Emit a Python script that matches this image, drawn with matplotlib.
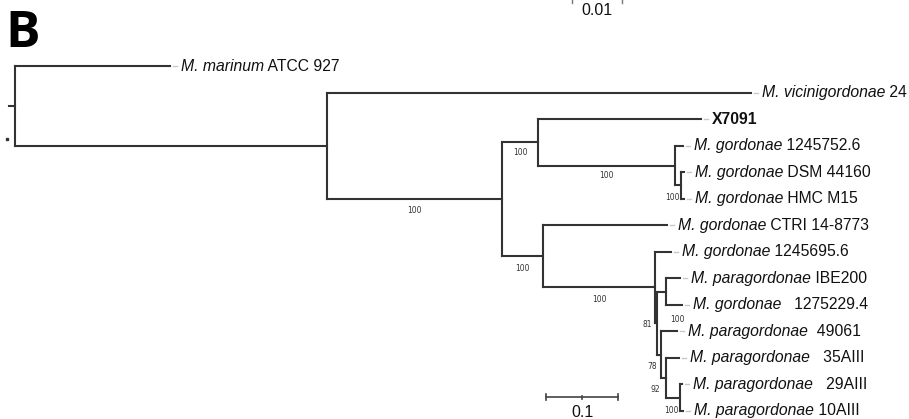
import matplotlib
matplotlib.use('Agg')
import matplotlib.pyplot as plt

# ---------------- data ----------------
leaf_species = ['M. marinum', 'M. vicinigordonae', 'X7091', 'M. gordonae', 'M. gordonae',
                'M. gordonae', 'M. gordonae', 'M. gordonae', 'M. paragordonae', 'M. gordonae',
                'M. paragordonae', 'M. paragordonae', 'M. paragordonae', 'M. paragordonae']
leaf_strains = ['ATCC 927', '24', '', '1245752.6', 'DSM 44160', 'HMC M15', 'CTRI 14-8773',
                '1245695.6', 'IBE200', '1275229.4', '49061', '35AIII', '29AIII', '10AIII']
leaf_gap_spaces = [1, 1, 0, 1, 1, 1, 1, 1, 1, 3, 2, 3, 3, 1]
leaf_parent = ['root', 'A', 'D', 'E', 'F', 'F', 'C', 'G', 'I', 'I', 'N78', 'N92', 'P', 'P']
leaf_length = [0.2132, 0.5832, 0.2242, 0.011, 0.0041, 0.0041, 0.1706, 0.022,
               0.0193, 0.022, 0.022, 0.0179, 0.0028, 0.0041]

node_names = ['root', 'A', 'B', 'D', 'E', 'F', 'C', 'G', 'H', 'I', 'N78', 'N92', 'P']
node_parent = [None, 'root', 'A', 'B', 'D', 'E', 'B', 'C', 'G', 'H', 'H', 'N78', 'N92']
node_length = [0.0, 0.4292, 0.2407, 0.0495, 0.1884, 0.0083, 0.0564, 0.1541,
               0.0028, 0.0124, 0.0055, 0.0069, 0.0193]
node_support = [None, None, 100, 100, 100, 100, 100, 100, 81, 100, 78, 92, 100]

scale_value = 0.1
scale_label = '0.1'
top_scale_label = '0.01'
panel_letter = 'B'

# ---------------- layout ----------------
W, H = 909, 419
X0_PX, PX_PER_UNIT = 15.0, 727.0
ROW0_PX, ROW_PX = 66.1, 26.52

def ux(px):
    return px / PX_PER_UNIT

# bootstrap label placement: anchor, ha, dx(px), dy(px, downwards)
support_layout = {
    'B': ('mid', 'center', 0, 11), 'D': ('mid', 'center', 0, 10),
    'E': ('mid', 'center', 0, 10), 'F': ('node', 'right', -1, 12),
    'C': ('mid', 'center', 0, 12), 'G': ('mid', 'center', 0, 12),
    'H': ('node', 'right', -5.5, 1), 'I': ('node', 'center', 11, 28),
    'N78': ('node', 'right', -4.5, 12), 'N92': ('node', 'right', -6, 12),
    'P': ('node', 'right', -1, 12.5),
}

branch_color = '#333333'
LW = 1.5
label_font = 'Liberation Sans'
label_size = 11.3
label_gap_px = 11

fig = plt.figure(figsize=(W / 100, H / 100), dpi=100)
ax = fig.add_axes([0, 0, 1, 1])
ax.set_xlim(ux(-X0_PX), ux(W - X0_PX))
ax.set_ylim((H - ROW0_PX) / ROW_PX, -ROW0_PX / ROW_PX)
ax.axis('off')

# --- compute coordinates ---
nx, ny = {}, {}
for name, par, ln in zip(node_names, node_parent, node_length):
    nx[name] = 0.0 if par is None else nx[par] + ln
lx = [nx[p] + l for p, l in zip(leaf_parent, leaf_length)]
ly = list(range(len(leaf_species)))

children = {n: [] for n in node_names}
for i, p in enumerate(leaf_parent):
    children[p].append(('leaf', i))
for n, p in zip(node_names, node_parent):
    if p is not None:
        children[p].append(('node', n))
for n in reversed(node_names):
    ys = [ly[c] if k == 'leaf' else ny[c] for k, c in children[n]]
    ny[n] = (min(ys) + max(ys)) / 2
    ax.plot([nx[n], nx[n]], [min(ys), max(ys)], color=branch_color, lw=LW,
            solid_capstyle='projecting')

# horizontal branches
for n, p in zip(node_names, node_parent):
    if p is not None:
        ax.plot([nx[p], nx[n]], [ny[n], ny[n]], color=branch_color, lw=LW,
                solid_capstyle='projecting')
for i, p in enumerate(leaf_parent):
    ax.plot([nx[p], lx[i]], [ly[i], ly[i]], color=branch_color, lw=LW,
            solid_capstyle='projecting')

# root stub and small mark
ax.plot([ux(-6), 0], [ny['root'], ny['root']], color=branch_color, lw=LW)
ax.plot([ux(-8)], [(139 - ROW0_PX) / ROW_PX], marker='s', ms=1.6, color=branch_color, lw=0)

# tip connectors and labels
for i in range(len(leaf_species)):
    ax.plot([lx[i] + ux(3), lx[i] + ux(7)], [ly[i], ly[i]], color='#c8c8c8', lw=1)
    tx = lx[i] + ux(label_gap_px)
    if leaf_strains[i] == '':
        ax.text(tx, ly[i], leaf_species[i], fontsize=label_size, family=label_font,
                fontweight='bold', va='center', ha='left', color='#111111')
    else:
        t1 = ax.text(tx, ly[i], leaf_species[i], fontsize=label_size, family=label_font,
                     style='italic', va='center', ha='left', color='#111111')
        ax.annotate(' ' * leaf_gap_spaces[i] + leaf_strains[i], xy=(1, 0), xycoords=t1,
                    va='bottom', ha='left', fontsize=label_size, family=label_font,
                    color='#111111')

# bootstrap values
for n, p, s in zip(node_names, node_parent, node_support):
    if s is None:
        continue
    anchor, ha, dx, dy = support_layout[n]
    x = (nx[p] + nx[n]) / 2 if anchor == 'mid' else nx[n]
    ax.annotate(str(s), xy=(x, ny[n]), xytext=(dx, -dy), textcoords='offset pixels',
                ha=ha, va='center', fontsize=5.5, family='DejaVu Sans', color='#333333')

# scale bar 0.1
sb_x0 = ux(545.7 - X0_PX)
sb_y = (397.3 - ROW0_PX) / ROW_PX
tick = 3 / ROW_PX
ax.plot([sb_x0, sb_x0 + scale_value], [sb_y, sb_y], color='#444444', lw=1.2)
for xx, tk in [(sb_x0, tick), (sb_x0 + scale_value, tick), (sb_x0 + scale_value / 2, tick * 0.4)]:
    ax.plot([xx, xx], [sb_y - tk, sb_y + tk], color='#444444', lw=1.2)
ax.annotate(scale_label, xy=(sb_x0 + scale_value / 2, sb_y), xytext=(0, -8),
            textcoords='offset pixels', ha='center', va='top', fontsize=11.5,
            family=label_font, color='#111111')

# partial top scale bar 0.01 (cropped at the top edge)
ts_x0, ts_x1 = ux(572 - X0_PX), ux(622 - X0_PX)
ytop = -ROW0_PX / ROW_PX
for xx in [ts_x0, ts_x1]:
    ax.plot([xx, xx], [ytop, ytop + 3 / ROW_PX], color='#777777', lw=1.0)
ax.annotate(top_scale_label, xy=((ts_x0 + ts_x1) / 2, ytop), xytext=(0, -3),
            textcoords='offset pixels', ha='center', va='top', fontsize=11.5,
            family=label_font, color='#111111')

fig.text(5.4 / W, 1 - 46.7 / H, panel_letter, fontsize=37, fontweight='bold',
         family='Open Sans', va='baseline', ha='left', color='#000000')

fig.savefig('out.png', dpi=100)
